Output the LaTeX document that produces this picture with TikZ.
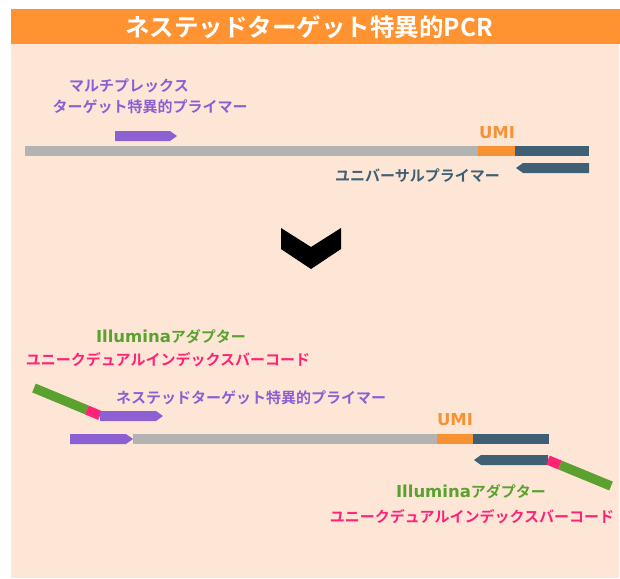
\documentclass[tikz,border=0pt]{standalone}
\usepackage{fontspec}
\setmainfont{Noto Sans CJK JP}[BoldFont={Noto Sans CJK JP Bold}]
\newfontfamily\latin{DejaVu Sans}[BoldFont={DejaVu Sans Bold}]
\definecolor{hdr}{HTML}{FF9332}
\definecolor{peach}{HTML}{FEE6D6}
\definecolor{prim}{HTML}{8C5FD3}
\definecolor{tmpl}{HTML}{B3B3B3}
\definecolor{umi}{HTML}{F79234}
\definecolor{dark}{HTML}{3F5F74}
\definecolor{adapt}{HTML}{5BA12F}
\definecolor{bc}{HTML}{FF2277}
\newcommand{\lat}[1]{{\latin\fontsize{16.5}{18}\selectfont #1}}
\begin{document}
\begin{tikzpicture}[x=1pt,y=-1pt,
  lbl/.style={font=\fontsize{15}{18}\selectfont\bfseries, inner sep=0pt, align=center},
  seg/.style={line width=9.5pt, line cap=butt}]
\useasboundingbox (0,0) rectangle (620,578);
\fill[white] (0,0) rectangle (620,578);
\fill[hdr] (11,9) rectangle (620,44);
\fill[peach] (11,44) rectangle (619,578);
\node[font=\fontsize{24.5}{26}\selectfont\bfseries, text=white, inner sep=0pt] (title) at (309,27) {ネステッドターゲット特異的PCR};

% top section
\node[lbl, text=prim] (mp1) at (129,86) {マルチプレックス};
\node[lbl, text=prim] (mp2) at (150,107) {ターゲット特異的プライマー};
\fill[prim] (115,131) -- (170,131) -- (177,136) -- (170,141) -- (115,141) -- cycle;
\fill[tmpl] (25,146) rectangle (478,156);
\fill[umi] (478,146) rectangle (515,156);
\fill[dark] (515,146) rectangle (589,156);
\node[lbl, text=umi] (umi1) at (497,133) {\lat{UMI}};
\fill[dark] (589,163) -- (523,163) -- (516,168) -- (523,173) -- (589,173) -- cycle;
\node[lbl, text=dark, anchor=east] (up) at (500,176) {ユニバーサルプライマー};

% chevron
\fill[black] (281,228) -- (311,247) -- (341,228) -- (341,249) -- (311,269) -- (281,249) -- cycle;

% bottom section
\node[lbl, text=adapt] (ad1) at (171,337) {\lat{Illumina}アダプター};
\node[lbl, text=bc] (bc1) at (168,360) {ユニークデュアルインデックスバーコード};
\node[lbl, text=prim] (np) at (251,398) {ネステッドターゲット特異的プライマー};
\draw[seg, adapt] (34,388) -- (87,410);
\draw[seg, bc] (87,410) -- (100,415.5);
\fill[prim] (100,411) -- (156,411) -- (163,416) -- (156,421) -- (100,421) -- cycle;

\fill[tmpl] (133,434) rectangle (437,444);
\fill[prim] (70,434) -- (126,434) -- (133,439) -- (126,444) -- (70,444) -- cycle;
\fill[umi] (437,434) rectangle (473,444);
\fill[dark] (473,434) rectangle (549,444);
\node[lbl, text=umi] (umi2) at (455,420) {\lat{UMI}};
\fill[dark] (548,455) -- (481,455) -- (474,460) -- (481,465) -- (548,465) -- cycle;
\draw[seg, bc] (548,460) -- (560,465);
\draw[seg, adapt] (560,465) -- (611,486);
\node[lbl, text=adapt] (ad2) at (471,492) {\lat{Illumina}アダプター};
\node[lbl, text=bc] (bc2) at (472,517) {ユニークデュアルインデックスバーコード};
\end{tikzpicture}
\end{document}
